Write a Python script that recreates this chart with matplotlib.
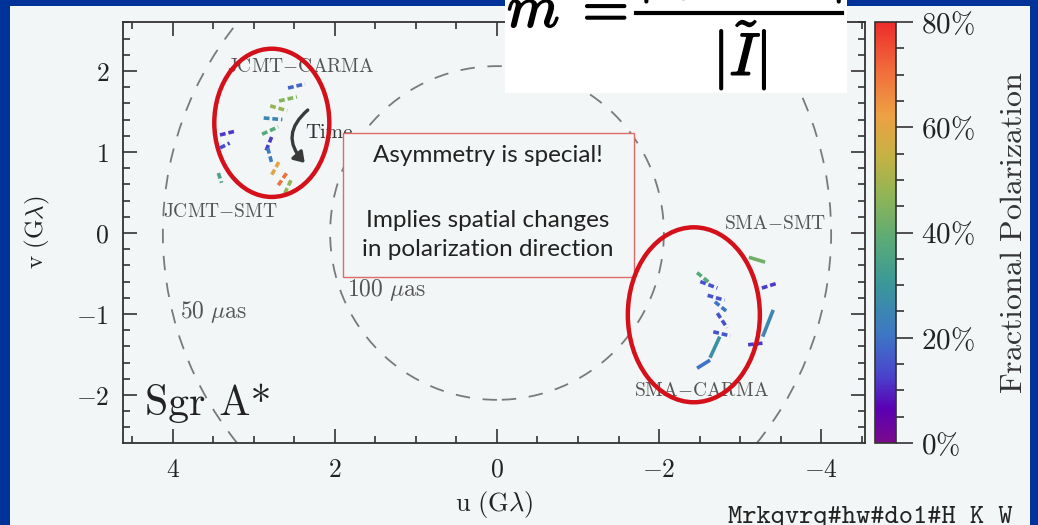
import matplotlib
matplotlib.use('Agg')
import matplotlib.pyplot as plt
import matplotlib.patheffects as pe
from matplotlib.colors import LinearSegmentedColormap, Normalize
from matplotlib.cm import ScalarMappable
from matplotlib.patches import Ellipse, Circle, Rectangle, FancyArrowPatch
from matplotlib.lines import Line2D
from matplotlib.ticker import MultipleLocator, FixedLocator, FuncFormatter

plt.rcParams['mathtext.fontset'] = 'cm'

# polarization tracks in the (u, v) plane, G-lambda, with fractional polarization in %
u_start = [2.58, 2.69, 2.80, 2.88, 2.90, 2.85, 2.83, 2.78, 2.70, 2.62, 3.42, 3.42, 3.44,
           -3.11, -2.47, -2.51, -2.60, -2.69, -2.72, -2.67, -2.75, -2.63, -3.27, -3.41, -3.10]
v_start = [1.79, 1.63, 1.57, 1.42, 1.22, 1.02, 1.05, 0.72, 0.59, 0.49, 1.21, 1.05, 0.74,
           -0.30, -0.49, -0.60, -0.77, -0.85, -0.99, -1.22, -1.28, -1.57, -0.68, -0.95, -1.38]
u_end = [2.37, 2.47, 2.59, 2.65, 2.70, 2.78, 2.78, 2.68, 2.59, 2.53, 3.22, 3.30, 3.40,
         -3.31, -2.63, -2.72, -2.81, -2.85, -2.84, -2.88, -2.63, -2.47, -3.46, -3.28, -3.28]
v_end = [1.84, 1.68, 1.51, 1.40, 1.31, 1.19, 0.86, 0.90, 0.75, 0.68, 1.26, 1.11, 0.62,
         -0.36, -0.62, -0.68, -0.83, -0.98, -1.17, -1.27, -1.54, -1.67, -0.62, -1.28, -1.36]
frac_pol = [18, 45, 48, 25, 38, 12, 22, 60, 70, 48, 12, 14, 35,
            42, 38, 15, 15, 20, 15, 15, 28, 20, 12, 25, 12]

baselines = ['JCMT{-}CARMA', 'JCMT{-}SMT', 'SMA{-}SMT', 'SMA{-}CARMA']
baseline_u = [2.42, 3.41, -3.44, -2.53]
baseline_v = [2.06, 0.27, 0.12, -1.94]

ring_radius = [4.125, 2.06]
ring_names = [r'$50\ \mu\mathrm{as}$', r'$100\ \mu\mathrm{as}$']
ring_label_u = [3.91, 1.85]
ring_label_v = [-0.98, -0.70]

cbar_ticks = [0, 20, 40, 60, 80]

# styling
bg = '#f3f6f6'
slide_blue = '#003399'
solid_tracks = {13, 20, 21, 23}
pol_cmap = LinearSegmentedColormap.from_list('pol', [
    (0.00, '#7a0a8c'), (0.08, '#5a00b4'), (0.16, '#4a44cc'), (0.26, '#3d78c4'),
    (0.38, '#3a9898'), (0.48, '#5aaa78'), (0.58, '#8cb458'), (0.68, '#c4b244'),
    (0.78, '#eea044'), (0.88, '#f0703c'), (1.00, '#ee2c2c')])
norm = Normalize(0, 80)

W, H = 1038, 525
def fx(x):
    return x / W
def fy(y):
    return 1 - y / H

fig = plt.figure(figsize=(W / 100, H / 100), dpi=100, facecolor=slide_blue)
fig.add_artist(Rectangle((fx(10), 0), fx(1030) - fx(10), fy(6), transform=fig.transFigure,
                         facecolor=bg, edgecolor='none', zorder=-10))

ax = fig.add_axes([fx(123), fy(443), (865 - 123) / W, (443 - 22) / H], facecolor=bg)
ax.set_xlim(4.617, -4.543)
ax.set_ylim(-2.593, 2.605)

# angular-scale rings
for r in ring_radius:
    ax.add_patch(Circle((0, 0), r, fill=False, ec='#7a7a7a', lw=1.3, ls=(0, (8, 7)), zorder=1))
for name, u, v in zip(ring_names, ring_label_u, ring_label_v):
    ax.text(u, v, name, fontsize=17, color='#555555', ha='left', va='center')

# polarization tracks
for i in range(len(frac_pol)):
    ls = '-' if i in solid_tracks else (0, (1.6, 0.8))
    ax.plot([u_start[i], u_end[i]], [v_start[i], v_end[i]], color=pol_cmap(norm(frac_pol[i])),
            lw=2.6, ls=ls, solid_capstyle='butt', zorder=3)

for name, u, v in zip(baselines, baseline_u, baseline_v):
    ax.text(u, v, r'$\mathrm{%s}$' % name, fontsize=14, color='#555555', ha='center', va='center')

ax.text(4.35, -2.1, 'Sgr A*', family='cmr10', fontsize=30, color='#222222', ha='left', va='center')

# rotation arrow
ax.text(2.37, 1.23, 'Time', family='cmr10', fontsize=15, color='#333333', ha='left', va='center', zorder=3)
ax.add_patch(FancyArrowPatch((2.31, 1.54), (2.35, 0.84), connectionstyle='arc3,rad=0.55',
                             arrowstyle='-|>,head_length=6,head_width=4', color='#3a3a3a', lw=2.4, zorder=4))

# call-out box
ax.add_patch(Rectangle((fx(343), fy(277)), (634 - 343) / W, (277 - 133) / H, transform=fig.transFigure,
                       fc=bg, ec='#e06a6a', lw=1.0, zorder=6, clip_on=False))
for txt, y in [('Asymmetry is special!', 155), ('Implies spatial changes', 220),
               ('in polarization direction', 250)]:
    ax.text(fx(488), fy(y), txt, transform=fig.transFigure, ha='center', va='center',
            family='Lato', fontsize=17.5, color='#222222', zorder=7)

# highlight ellipses
ax.add_patch(Ellipse((2.78, 1.36), 1.42, 1.83, fill=False, ec='#d4111b', lw=3.2, zorder=8, clip_on=False))
ax.add_patch(Ellipse((-2.43, -1.01), 1.63, 2.16, fill=False, ec='#d4111b', lw=3.2, zorder=8, clip_on=False))

fmt = FuncFormatter(lambda v, _: '$%g$' % v)
ax.xaxis.set_major_locator(MultipleLocator(2))
ax.xaxis.set_minor_locator(MultipleLocator(0.5))
ax.yaxis.set_major_locator(MultipleLocator(1))
ax.yaxis.set_minor_locator(MultipleLocator(0.2))
ax.xaxis.set_major_formatter(fmt)
ax.yaxis.set_major_formatter(fmt)
ax.tick_params(which='both', direction='in', top=True, right=True, width=1.2, color='#333333',
               labelsize=18.5, labelcolor='#222222', pad=10)
ax.tick_params(which='major', length=10)
ax.tick_params(which='minor', length=5)
for s in ax.spines.values():
    s.set_linewidth(1.3)
    s.set_color('#333333')

ax.set_xlabel(r'$\mathrm{u\ (G\lambda)}$', fontsize=19, color='#222222')
ax.xaxis.set_label_coords(0.5, (443 - 489) / 421)
ax.set_ylabel(r'$\mathrm{v\ (G\lambda)}$', fontsize=18, color='#222222')
ax.yaxis.set_label_coords((52 - 123) / 742, 0.5)

# colorbar
cax = fig.add_axes([fx(875), fy(443), 21 / W, (443 - 22) / H])
cb = fig.colorbar(ScalarMappable(norm=norm, cmap=pol_cmap), cax=cax)
cb.outline.set_linewidth(1.2)
cb.outline.set_edgecolor('#333333')
cax.yaxis.set_major_locator(FixedLocator(cbar_ticks))
cax.yaxis.set_minor_locator(MultipleLocator(5))
cax.yaxis.set_major_formatter(FuncFormatter(lambda v, _: r'$%d\%%$' % v))
cax.tick_params(which='both', direction='out', width=1.2, color='#333333', labelsize=21,
                labelcolor='#222222', pad=6)
cax.tick_params(which='major', length=12)
cax.tick_params(which='minor', length=6)
fig.text(fx(1014), fy(232), r'$\mathrm{Fractional\ Polarization}$', rotation=90, ha='center',
         va='center', fontsize=23, color='#333333')

# formula overlay
fig.add_artist(Rectangle((fx(505), fy(93)), (847 - 505) / W, 93 / H, transform=fig.transFigure,
                         fc='white', ec='none', zorder=5))
fig.add_artist(Line2D([fx(636), fx(842)], [fy(13), fy(13)], transform=fig.transFigure,
                      color='black', lw=3, zorder=6))
bold = [pe.withStroke(linewidth=1.2, foreground='black')]
for txt, x, y in [(r'$m$', 507, 27), (r'$=$', 572, 27), (r'$|\tilde{I}|$', 740, 75),
                  (r'$|\tilde{Q}+i\tilde{U}|$', 740, -12)]:
    fig.text(fx(x), fy(y), txt, fontsize=43, ha='center' if x > 600 else 'left', va='baseline',
             color='black', zorder=7, path_effects=bold)

fig.text(fx(728), fy(523), 'Mrkqvrq#hw#do1#H K W', family='cmtt10', fontsize=19.5, ha='left',
         va='baseline', color='#222222')

fig.savefig('out.png', dpi=100, facecolor=slide_blue)
